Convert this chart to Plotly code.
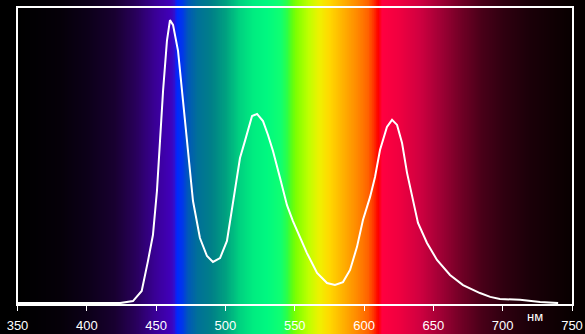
import numpy as np
import plotly.graph_objects as go

# ---- data ----
wavelength_nm = [350, 380, 410, 424, 433.3, 439.6, 444.1, 447.7, 450.6, 452.8, 455.0, 457.8,
                 460.0, 462.2, 465.8, 469.4, 473.0, 476.6, 481.6, 486.7, 491.0, 496.1,
                 501.1, 505.5, 510.5, 514.1, 519.2, 522.8, 527.1, 530.7, 534.3, 539.4,
                 544.4, 548.7, 553.8, 558.8, 566.1, 573.3, 579.0, 584.8, 589.9, 594.9,
                 599.2, 604.3, 607.9, 611.5, 616.5, 620.2, 623.8, 627.4, 631.0, 634.6,
                 638.9, 645.4, 652.6, 662.0, 671.4, 683.6, 691, 698, 712.5, 727, 740]
intensity = [0.3, 0.3, 0.3, 0.3, 1.0, 4.4, 14.5, 23.3, 38.2, 55.1, 72.0, 88.9,
             95.9, 94.3, 85.5, 68.6, 51.7, 34.8, 22.3, 16.2, 14.2, 15.5,
             21.3, 34.8, 49.3, 55.1, 63.5, 64.2, 61.8, 57.1, 51.7, 42.6,
             33.4, 28.0, 22.3, 17.2, 10.5, 7.1, 6.4, 7.4, 11.5, 19.3,
             28.4, 36.1, 42.9, 52.0, 59.8, 62.2, 60.5, 54.4, 44.3, 36.1,
             27.4, 20.6, 14.9, 9.8, 6.4, 3.7, 2.4, 1.7, 1.4, 0.7, 0.3]

tick_values = [350, 400, 450, 500, 550, 600, 650, 700, 750]
tick_labels = ["350", "400", "450", "500", "550", "600", "650", "700", "750"]
unit_label = "нм"

# ---- background spectrum colour stops (style) ----
stop_nm = [330, 350, 380, 400, 420, 435, 450, 460, 463, 465, 469, 473, 480, 490, 500,
           510, 520, 530, 540, 545, 548, 551, 560, 568, 575, 585, 595, 603, 607,
           610, 613, 625, 640, 655, 670, 685, 700, 720, 750, 770]
stop_col = ["#000000", "#000000", "#050008", "#0c0018", "#180030", "#28005a", "#3a0098",
            "#4000b8", "#3010d0", "#0028ff", "#0038e8", "#0058b8", "#007098", "#008088",
            "#00a080", "#00d080", "#00ec80", "#00f880", "#10ff70", "#30ff40", "#60ff10",
            "#80ff00", "#c0ff00", "#f0f000", "#ffd800", "#ffb000", "#ff8800", "#ff6000",
            "#ff3000", "#ff0000", "#ff0040", "#f00040", "#d00040", "#a00035", "#700025",
            "#480018", "#300010", "#1a0008", "#080000", "#000000"]

W, H = 585, 334
x_left_px, x_right_px, y_top_px, y_bot_px = 17.5, 572, 8, 304
x_min, x_max = 350, 750
px_per_nm = (x_right_px - x_left_px) / (x_max - x_min)
bg_lo = x_min - x_left_px / px_per_nm
bg_hi = x_min + (W - x_left_px) / px_per_nm

lo, hi = stop_nm[0], stop_nm[-1]
colorscale = [[(s - lo) / (hi - lo), c] for s, c in zip(stop_nm, stop_col)]
bg_x = np.arange(lo, hi + 0.5, 0.5)
bg_z = [list(bg_x), list(bg_x)]

fig = go.Figure()
fig.add_trace(go.Heatmap(x=bg_x, y=[0, 1], z=bg_z, colorscale=colorscale,
                         zmin=lo, zmax=hi, showscale=False, hoverinfo="skip",
                         xaxis="x", yaxis="y"))
fig.add_trace(go.Scatter(x=wavelength_nm, y=intensity, mode="lines",
                         line=dict(color="white", width=2),
                         xaxis="x2", yaxis="y2", showlegend=False))

fig.update_layout(
    width=W, height=H, margin=dict(l=0, r=0, t=0, b=0),
    paper_bgcolor="black", plot_bgcolor="rgba(0,0,0,0)",
    showlegend=False,
    xaxis=dict(domain=[0, 1], range=[bg_lo, bg_hi], visible=False, fixedrange=True),
    yaxis=dict(domain=[0, 1], range=[0, 1], visible=False, fixedrange=True),
    xaxis2=dict(domain=[x_left_px / W, x_right_px / W], range=[x_min, x_max],
                anchor="y2", tickmode="array", tickvals=tick_values, ticktext=tick_labels,
                ticks="outside", ticklen=5, tickwidth=1, tickcolor="white",
                ticklabelstandoff=3,
                showline=True, linecolor="white", linewidth=2, mirror=True,
                showgrid=False, zeroline=False, automargin=False,
                tickfont=dict(family="Liberation Sans, Arial", size=13, color="white")),
    yaxis2=dict(domain=[1 - y_bot_px / H, 1 - y_top_px / H], range=[0, 100],
                anchor="x2", showticklabels=False, ticks="",
                showline=True, linecolor="white", linewidth=2, mirror=True,
                showgrid=False, zeroline=False, automargin=False),
)
fig.add_annotation(x=723, y=1 - 326 / H, xref="x2", yref="paper", text=unit_label,
                   showarrow=False, yanchor="bottom", xanchor="center",
                   font=dict(family="Liberation Sans, Arial", size=13, color="white"))

fig.write_html("out.html")
